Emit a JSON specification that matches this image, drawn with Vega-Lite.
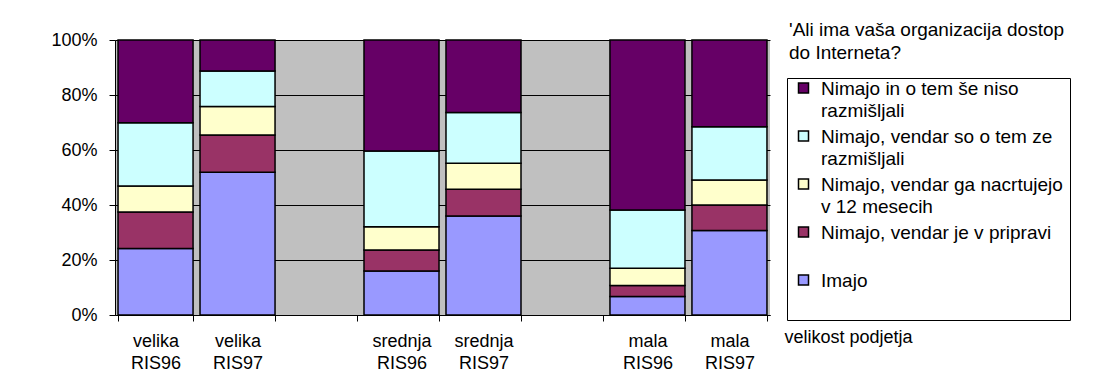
{
  "$schema": "https://vega.github.io/schema/vega-lite/v6.json",
  "width": 655,
  "height": 275,
  "autosize": {"type": "none"},
  "padding": {"left": 115, "top": 40, "right": 327, "bottom": 77},
  "background": "white",
  "config": {
    "font": "Liberation Sans",
    "view": {"fill": "#C0C0C0", "stroke": null},
    "style": {"guide-label": {"lineHeight": 22.5}}
  },
  "title": {
    "text": ["'Ali ima vaša organizacija dostop", "do Interneta?"],
    "frame": "group",
    "anchor": "end",
    "align": "left",
    "baseline": "top",
    "dx": 19,
    "dy": 36,
    "fontSize": 19,
    "fontWeight": "normal",
    "lineHeight": 23,
    "color": "black",
    "font": "Liberation Sans"
  },
  "data": {
    "values": [
      {"grp": "velika RIS96", "answer": "Imajo", "code": 1, "pct": 24.2},
      {"grp": "velika RIS96", "answer": "Nimajo, vendar je v pripravi", "code": 2, "pct": 13.3},
      {"grp": "velika RIS96", "answer": "Nimajo, vendar ga nacrtujejo v 12 mesecih", "code": 3, "pct": 9.4},
      {"grp": "velika RIS96", "answer": "Nimajo, vendar so o tem ze razmišljali", "code": 4, "pct": 23.0},
      {"grp": "velika RIS96", "answer": "Nimajo in o tem še niso razmišljali", "code": 5, "pct": 30.1},
      {"grp": "velika RIS97", "answer": "Imajo", "code": 1, "pct": 51.9},
      {"grp": "velika RIS97", "answer": "Nimajo, vendar je v pripravi", "code": 2, "pct": 13.6},
      {"grp": "velika RIS97", "answer": "Nimajo, vendar ga nacrtujejo v 12 mesecih", "code": 3, "pct": 10.3},
      {"grp": "velika RIS97", "answer": "Nimajo, vendar so o tem ze razmišljali", "code": 4, "pct": 12.9},
      {"grp": "velika RIS97", "answer": "Nimajo in o tem še niso razmišljali", "code": 5, "pct": 11.3},
      {"grp": "srednja RIS96", "answer": "Imajo", "code": 1, "pct": 16.0},
      {"grp": "srednja RIS96", "answer": "Nimajo, vendar je v pripravi", "code": 2, "pct": 7.6},
      {"grp": "srednja RIS96", "answer": "Nimajo, vendar ga nacrtujejo v 12 mesecih", "code": 3, "pct": 8.5},
      {"grp": "srednja RIS96", "answer": "Nimajo, vendar so o tem ze razmišljali", "code": 4, "pct": 27.5},
      {"grp": "srednja RIS96", "answer": "Nimajo in o tem še niso razmišljali", "code": 5, "pct": 40.4},
      {"grp": "srednja RIS97", "answer": "Imajo", "code": 1, "pct": 36.0},
      {"grp": "srednja RIS97", "answer": "Nimajo, vendar je v pripravi", "code": 2, "pct": 9.7},
      {"grp": "srednja RIS97", "answer": "Nimajo, vendar ga nacrtujejo v 12 mesecih", "code": 3, "pct": 9.5},
      {"grp": "srednja RIS97", "answer": "Nimajo, vendar so o tem ze razmišljali", "code": 4, "pct": 18.4},
      {"grp": "srednja RIS97", "answer": "Nimajo in o tem še niso razmišljali", "code": 5, "pct": 26.4},
      {"grp": "mala RIS96", "answer": "Imajo", "code": 1, "pct": 6.7},
      {"grp": "mala RIS96", "answer": "Nimajo, vendar je v pripravi", "code": 2, "pct": 4.0},
      {"grp": "mala RIS96", "answer": "Nimajo, vendar ga nacrtujejo v 12 mesecih", "code": 3, "pct": 6.3},
      {"grp": "mala RIS96", "answer": "Nimajo, vendar so o tem ze razmišljali", "code": 4, "pct": 21.2},
      {"grp": "mala RIS96", "answer": "Nimajo in o tem še niso razmišljali", "code": 5, "pct": 61.8},
      {"grp": "mala RIS97", "answer": "Imajo", "code": 1, "pct": 30.7},
      {"grp": "mala RIS97", "answer": "Nimajo, vendar je v pripravi", "code": 2, "pct": 9.3},
      {"grp": "mala RIS97", "answer": "Nimajo, vendar ga nacrtujejo v 12 mesecih", "code": 3, "pct": 9.1},
      {"grp": "mala RIS97", "answer": "Nimajo, vendar so o tem ze razmišljali", "code": 4, "pct": 19.4},
      {"grp": "mala RIS97", "answer": "Nimajo in o tem še niso razmišljali", "code": 5, "pct": 31.5}
    ]
  },
  "mark": {"type": "bar", "stroke": "black", "strokeWidth": 1.5},
  "encoding": {
    "x": {
      "field": "grp",
      "type": "nominal",
      "scale": {
        "domain": ["velika RIS96", "velika RIS97", "gap1", "srednja RIS96", "srednja RIS97", "gap2", "mala RIS96", "mala RIS97"],
        "paddingInner": 0.085,
        "paddingOuter": 0.037
      },
      "axis": {
        "title": "velikost podjetja",
        "titleX": 669,
        "titleY": 22,
        "titleAlign": "left",
        "titleBaseline": "middle",
        "titleFontSize": 18,
        "titleFontWeight": "normal",
        "titleColor": "black",
        "labelAngle": 0,
        "labelFontSize": 18,
        "labelColor": "black",
        "labelExpr": "(datum.label == null || datum.label == '' || indexof(datum.label, 'gap') == 0) ? '' : split(datum.label, ' ')",
        "labelPadding": 11,
        "tickBand": "extent",
        "tickSize": 6,
        "tickColor": "black",
        "domainColor": "black",
        "grid": false
      }
    },
    "y": {
      "field": "pct",
      "type": "quantitative",
      "stack": "normalize",
      "axis": {
        "title": null,
        "format": ".0%",
        "labelFontSize": 18,
        "labelColor": "black",
        "labelPadding": 12,
        "tickSize": 6,
        "tickColor": "black",
        "domainColor": "black",
        "gridColor": "black"
      }
    },
    "order": {"field": "code", "type": "quantitative", "sort": "ascending"},
    "color": {
      "field": "answer",
      "type": "nominal",
      "sort": ["Nimajo in o tem še niso razmišljali", "Nimajo, vendar so o tem ze razmišljali", "Nimajo, vendar ga nacrtujejo v 12 mesecih", "Nimajo, vendar je v pripravi", "Imajo"],
      "scale": {
        "domain": ["Nimajo in o tem še niso razmišljali", "Nimajo, vendar so o tem ze razmišljali", "Nimajo, vendar ga nacrtujejo v 12 mesecih", "Nimajo, vendar je v pripravi", "Imajo"],
        "range": ["#660066", "#CCFFFF", "#FFFFCC", "#993366", "#9999FF"]
      },
      "legend": {
        "title": null,
        "orient": "none",
        "legendX": 672,
        "legendY": 38,
        "strokeColor": "black",
        "fillColor": "white",
        "padding": 7,
        "symbolType": "M-1,-2.3H1V-0.3H-1Z",
        "symbolSize": 100,
        "symbolStrokeColor": "black",
        "symbolStrokeWidth": 1.5,
        "labelFontSize": 19,
        "labelColor": "black",
        "labelLimit": 400,
        "labelOffset": 8,
        "labelBaseline": "alphabetic",
        "rowPadding": 6,
        "labelExpr": "datum.label == 'Nimajo in o tem še niso razmišljali' ? ['Nimajo in o tem še niso', 'razmišljali'] : datum.label == 'Nimajo, vendar so o tem ze razmišljali' ? ['Nimajo, vendar so o tem ze', 'razmišljali'] : datum.label == 'Nimajo, vendar ga nacrtujejo v 12 mesecih' ? ['Nimajo, vendar ga nacrtujejo\u00a0\u00a0\u00a0\u00a0\u00a0\u00a0\u00a0\u00a0\u00a0\u00a0', 'v 12 mesecih'] : [datum.label, '']"
      }
    }
  }
}
